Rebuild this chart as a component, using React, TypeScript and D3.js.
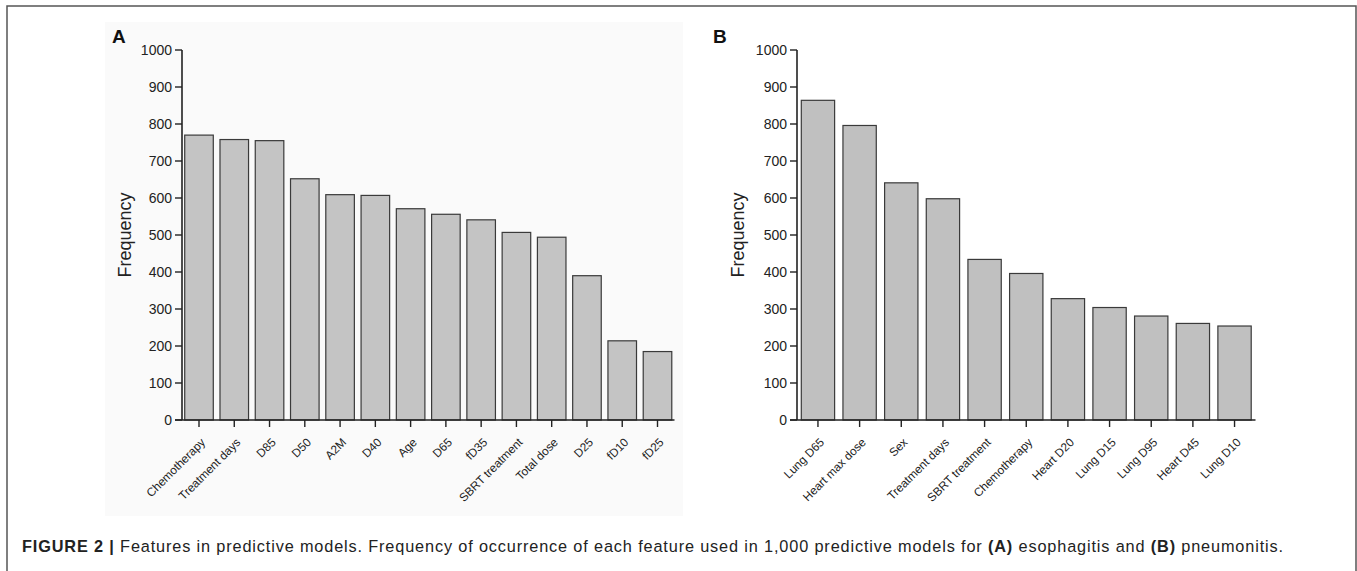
import React from "react";
import * as d3 from "d3";

const catsA = ["Chemotherapy", "Treatment days", "D85", "D50", "A2M", "D40", "Age", "D65", "fD35", "SBRT treatment", "Total dose", "D25", "fD10", "fD25"];
const valsA = [770, 758, 755, 652, 609, 607, 571, 556, 541, 507, 494, 390, 214, 185];

const catsB = ["Lung D65", "Heart max dose", "Sex", "Treatment days", "SBRT treatment", "Chemotherapy", "Heart D20", "Lung D15", "Lung D95", "Heart D45", "Lung D10"];
const valsB = [864, 796, 641, 598, 434, 396, 328, 304, 281, 261, 254];

const yTicks = [0, 100, 200, 300, 400, 500, 600, 700, 800, 900, 1000];

const FONT = "'Liberation Sans', Arial, Helvetica, sans-serif";

type PanelProps = {
  cats: string[];
  vals: number[];
  axisX: number;
  endX: number;
  pi: number;
  po: number;
  letter: string;
  letterX: number;
  freqX: number;
  fill: string;
};

function Panel({ cats, vals, axisX, endX, pi, po, letter, letterX, freqX, fill }: PanelProps) {
  const y = d3.scaleLinear().domain([0, 1000]).range([420, 50]);
  const x = d3.scaleBand<string>().domain(cats).range([axisX, endX]).paddingInner(pi).paddingOuter(po);
  const y0 = y(0);
  return (
    <g fontFamily={FONT}>
      <text x={letterX} y={43} fontSize={19} fontWeight="bold" fill="#111">{letter}</text>
      <text
        transform={`translate(${freqX},${(y(0) + y(1000)) / 2}) rotate(-90)`}
        textAnchor="middle"
        dominantBaseline="central"
        fontSize={18}
        fill="#222"
      >
        Frequency
      </text>
      {cats.map((c, i) => (
        <rect
          key={c}
          x={x(c)!}
          y={y(vals[i])}
          width={x.bandwidth()}
          height={y0 - y(vals[i])}
          fill={fill}
          stroke="#3a3a3a"
          strokeWidth={1.2}
        />
      ))}
      <line x1={axisX} x2={axisX} y1={y(1000)} y2={y0} stroke="#222" strokeWidth={1.6} />
      <line x1={axisX - 7} x2={endX} y1={y0} y2={y0} stroke="#222" strokeWidth={1.6} />
      {yTicks.map((t) => (
        <g key={t}>
          <line x1={axisX - 7} x2={axisX} y1={y(t)} y2={y(t)} stroke="#222" strokeWidth={1.4} />
          <text x={axisX - 10} y={y(t)} textAnchor="end" dominantBaseline="central" fontSize={14} fill="#222">
            {t}
          </text>
        </g>
      ))}
      {cats.map((c) => {
        const cx = x(c)! + x.bandwidth() / 2;
        return (
          <g key={"t" + c}>
            <line x1={cx} x2={cx} y1={y0} y2={y0 + 7} stroke="#222" strokeWidth={1.4} />
            <text
              transform={`translate(${cx + 7},${y0 + 23}) rotate(-45)`}
              textAnchor="end"
              fontSize={11.8}
              fill="#222"
            >
              {c}
            </text>
          </g>
        );
      })}
    </g>
  );
}

export default function App() {
  return (
    <svg
      width={1357}
      height={571}
      style={{ position: "absolute", left: 0, top: 0, background: "#fff" }}
    >
      <rect x={0} y={0} width={1357} height={571} fill="#fff" />
      <rect x={7} y={6} width={1349} height={600} fill="none" stroke="#555" strokeWidth={1.5} />
      <rect x={105} y={22} width={578} height={494} fill="#fafafa" />
      <Panel
        cats={catsA}
        vals={valsA}
        axisX={182}
        endX={674.5}
        pi={0.19}
        po={0.077}
        letter="A"
        letterX={112}
        freqX={125}
        fill="#c4c4c4"
      />
      <Panel
        cats={catsB}
        vals={valsB}
        axisX={797}
        endX={1255.5}
        pi={0.2}
        po={0.103}
        letter="B"
        letterX={713}
        freqX={738}
        fill="#c0c0c0"
      />
      <text x={22} y={552} fontFamily={FONT} fontSize={16.3} fill="#222" textLength={1261} lengthAdjust="spacing">
        <tspan fontWeight="bold">FIGURE 2 | </tspan>
        <tspan>Features in predictive models. Frequency of occurrence of each feature used in 1,000 predictive models for </tspan>
        <tspan fontWeight="bold">(A)</tspan>
        <tspan> esophagitis and </tspan>
        <tspan fontWeight="bold">(B)</tspan>
        <tspan> pneumonitis.</tspan>
      </text>
    </svg>
  );
}
